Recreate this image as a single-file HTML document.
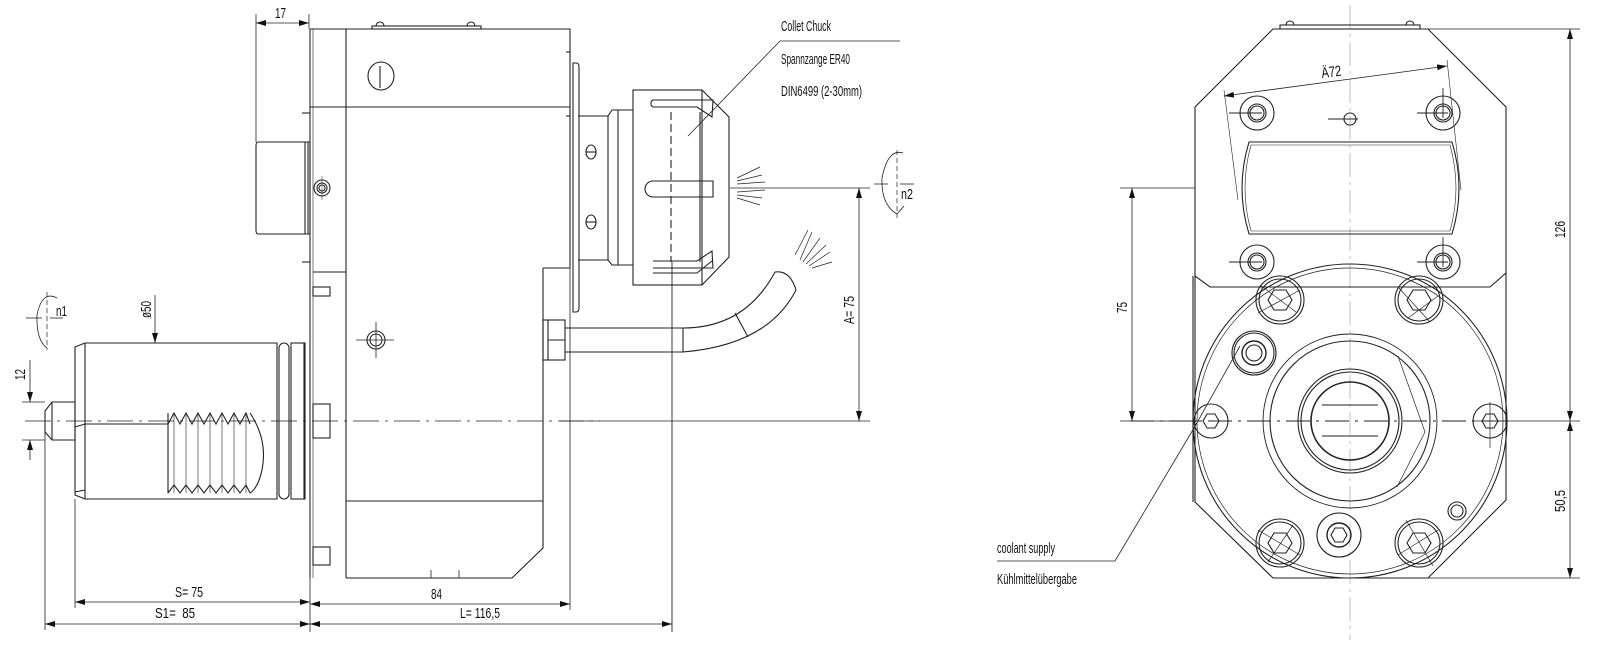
<!DOCTYPE html>
<html><head><meta charset="utf-8"><style>
html,body{margin:0;padding:0;background:#fff;}
svg{display:block}
text{font-family:"Liberation Sans Narrow","Liberation Sans",sans-serif;fill:#111;font-size:15px}
</style></head><body>
<svg width="1600" height="660" viewBox="0 0 1600 660" xmlns="http://www.w3.org/2000/svg">
<defs>
<marker id="a" viewBox="0 0 10 6" refX="10" refY="3" markerWidth="10" markerHeight="6" orient="auto-start-reverse" markerUnits="userSpaceOnUse"><path d="M0,0L10,3L0,6z" fill="#111"/></marker>
</defs>
<g fill="none" stroke="#222" stroke-width="1.1">
<line x1="256" y1="14" x2="256" y2="142" stroke-width="0.8"/>
<line x1="309" y1="14" x2="309" y2="29" stroke-width="0.8"/>
<line x1="256" y1="23" x2="309" y2="23" marker-start="url(#a)" marker-end="url(#a)" stroke-width="0.8"/>
<path d="M258,142H310V234H258Q256,234 256,230V146Q256,142 258,142Z"/>
<line x1="305" y1="142" x2="305" y2="234"/><line x1="308" y1="142" x2="308" y2="234"/>
<rect x="372" y="26" width="109" height="3"/>
<path d="M376,26a4,4 0 0 1 8,0M467,26a4,4 0 0 1 8,0"/>
<path d="M310,29H570V268"/>
<line x1="310" y1="29" x2="310" y2="578"/><line x1="313" y1="29" x2="313" y2="578" stroke-width="0.6"/>
<line x1="346" y1="29" x2="346" y2="578"/>
<line x1="310" y1="107" x2="570" y2="107"/>
<line x1="302" y1="113" x2="310" y2="113"/><line x1="302" y1="262" x2="310" y2="262"/>
<line x1="313" y1="272" x2="346" y2="272"/><rect x="313" y="287" width="17" height="9"/>
<ellipse cx="381" cy="76" rx="13" ry="14"/><line x1="380" y1="66" x2="380" y2="88"/>
<circle cx="322" cy="188" r="8"/><circle cx="322" cy="188" r="5"/><circle cx="322" cy="188" r="3"/>
<line x1="322" y1="176" x2="322" y2="200" stroke-width="0.5"/>
<circle cx="376" cy="340" r="9"/><circle cx="376" cy="340" r="6"/><path d="M356,340H394M376,322V358" stroke-width="0.8"/>
<path d="M543,268H570M543,268V548L512,578H346"/>
<line x1="346" y1="501" x2="543" y2="501"/>
<line x1="570" y1="268" x2="570" y2="610" stroke-width="0.8"/>
<line x1="570" y1="52" x2="566" y2="52"/><line x1="570" y1="116" x2="566" y2="116"/>
<path d="M431,578v-8M459,578v-8" stroke-width="0.8"/>
<rect x="313" y="404" width="17" height="34"/>
<rect x="313" y="547" width="17" height="18"/>
<rect x="543" y="320" width="22" height="40"/><line x1="548" y1="320" x2="548" y2="360"/><line x1="548" y1="340" x2="565" y2="340"/>
<path d="M573,63H576Q579,63 579,67V308Q579,312 576,312H573Z"/>
<path d="M578,116H608L612,110H633M578,260H608L612,265H633M608,116V260M618,110V265"/>
<ellipse cx="591" cy="152" rx="5" ry="7"/><line x1="586" y1="152" x2="596" y2="152"/>
<ellipse cx="591" cy="222" rx="5" ry="7"/><line x1="586" y1="222" x2="596" y2="222"/>
<rect x="633" y="90" width="69" height="195"/>
<path d="M702,90L729,117V257L702,285"/>
<line x1="700" y1="112" x2="700" y2="262"/>
<path d="M653,100H713L712,117L697,107H653A4,4 0 0 1 653,100Z"/>
<path d="M653,268H713L712,251L697,261H653" />
<path d="M653,273H697L712,261" />
<path d="M653,181H713V197H653A8,8 0 0 1 653,181Z"/>
<line x1="671" y1="112" x2="671" y2="262" stroke-dasharray="8,4"/>
<line x1="672" y1="262" x2="672" y2="632" stroke-width="0.9"/>
<path d="M737,178L760,167M737,181L762,175M737,184L765,182M737,192L765,190M737,195L762,198M737,198L760,205" stroke-width="0.7"/>
<path d="M800,260L812,232M803,262L820,238M806,264L826,245M809,266L830,252M812,268L832,262M795,255L808,230" stroke-width="0.7"/>
<path d="M565,328H683Q745,328 775,272"/>
<path d="M565,352H683Q768,345 796,290"/>
<line x1="683" y1="328" x2="683" y2="352"/>
<path d="M775,272Q790,270 796,290"/>
<path d="M735,313L748,337"/>
<path d="M688,136L780,41H900" stroke-width="0.8"/>
<line x1="25" y1="421" x2="600" y2="421" stroke-dasharray="26,6,3,6" stroke-width="0.8"/>
<path d="M85,343H277V499H85L75,495V347Z"/>
<line x1="85" y1="343" x2="85" y2="499"/>
<path d="M75,427L85,424H168M75,492L85,490"/>
<path d="M168,413V493M168,424L174,413L180,424L186,413L192,424L198,413L204,424L210,413L216,424L222,413L228,424L234,413L240,424L246,413L250,424M168,493L174,485L180,493L186,485L192,493L198,485L204,493L210,485L216,493L222,485L228,493L234,485L240,493L246,485L250,493"/>
<path d="M174,413V493M186,413V493M198,413V493M210,413V493M222,413V493M234,413V493M246,413V493" stroke-width="0.6"/>
<path d="M250,413Q268,440 262,470Q258,488 250,493"/>
<rect x="279" y="343" width="10" height="156" rx="5"/>
<rect x="291" y="343" width="14" height="156"/><line x1="304" y1="343" x2="304" y2="499"/>
<path d="M75,402H52L45,411V432L52,440H75Z"/><line x1="52" y1="402" x2="52" y2="440"/>
<path d="M22,402H45M22,440H45" stroke-width="0.8"/>
<line x1="30" y1="360" x2="30" y2="402" marker-end="url(#a)" stroke-width="0.8"/>
<line x1="30" y1="460" x2="30" y2="440" marker-end="url(#a)" stroke-width="0.8"/>
<line x1="155" y1="295" x2="155" y2="343" marker-end="url(#a)" stroke-width="0.8"/>
<path d="M57,298Q42,290 37,315Q36,340 47,348" stroke-width="0.8"/>
<line x1="47" y1="292" x2="47" y2="350" stroke-dasharray="5,3" stroke-width="0.7"/>
<line x1="26" y1="318" x2="42" y2="318" stroke-width="0.8"/>
<line x1="50" y1="318" x2="63" y2="318" stroke-width="0.8"/>
<line x1="45" y1="421" x2="45" y2="630" stroke-width="0.8"/>
<line x1="75" y1="499" x2="75" y2="608" stroke-width="0.8"/>
<line x1="310" y1="578" x2="310" y2="632" stroke-width="0.8"/>
<line x1="75" y1="602" x2="310" y2="602" marker-start="url(#a)" marker-end="url(#a)" stroke-width="0.8"/>
<line x1="45" y1="624" x2="310" y2="624" marker-start="url(#a)" marker-end="url(#a)" stroke-width="0.8"/>
<line x1="310" y1="604" x2="570" y2="604" marker-start="url(#a)" marker-end="url(#a)" stroke-width="0.8"/>
<line x1="310" y1="624" x2="672" y2="624" marker-start="url(#a)" marker-end="url(#a)" stroke-width="0.8"/>
<line x1="730" y1="188" x2="870" y2="188" stroke-width="0.8"/>
<line x1="560" y1="421" x2="870" y2="421" stroke-width="0.8"/>
<line x1="859" y1="188" x2="859" y2="421" marker-start="url(#a)" marker-end="url(#a)" stroke-width="0.8"/>
<path d="M903,153Q888,148 882,178Q881,205 897,214L904,206" stroke-width="0.8"/>
<line x1="897" y1="150" x2="897" y2="218" stroke-dasharray="5,3" stroke-width="0.7"/>
<line x1="874" y1="184" x2="888" y2="184" stroke-width="0.8"/>
<line x1="900" y1="184" x2="914" y2="184" stroke-width="0.8"/>

<line x1="1350" y1="5" x2="1350" y2="640" stroke="#999" stroke-width="0.6" stroke-dasharray="24,5,3,5"/>
<rect x="1280" y="25" width="140" height="4"/>
<path d="M1286,25a4,4 0 0 1 8,0M1406,25a4,4 0 0 1 8,0"/>
<path d="M1273,29H1428L1506,107V273L1490,287H1210L1195,276V107Z"/>
<path d="M1195,276V502L1273,578H1428L1506,500V273"/>
<line x1="1193" y1="276" x2="1193" y2="502"/>
<path d="M1249,142H1452Q1466,188 1452,234H1249Q1235,188 1249,142Z"/>
<path d="M1251,145H1450Q1462,188 1450,231H1251Q1239,188 1251,145Z" stroke-width="0.6"/>
<g>
<circle cx="1257" cy="113" r="17"/><circle cx="1257" cy="113" r="9"/><circle cx="1257" cy="113" r="7"/>
<circle cx="1443" cy="113" r="17"/><circle cx="1443" cy="113" r="9"/><circle cx="1443" cy="113" r="7"/>
<circle cx="1257" cy="262" r="17"/><circle cx="1257" cy="262" r="9"/><circle cx="1257" cy="262" r="7"/>
<circle cx="1443" cy="262" r="17"/><circle cx="1443" cy="262" r="9"/><circle cx="1443" cy="262" r="7"/>
<path d="M1229,113H1262M1417,113H1448M1443,88V118M1229,262H1262M1417,262H1448M1443,237V267" stroke-width="0.9"/>
<circle cx="1350" cy="119" r="6"/><line x1="1328" y1="119" x2="1358" y2="119"/>
</g>
<line x1="1224" y1="96" x2="1447" y2="66" marker-start="url(#a)" marker-end="url(#a)" stroke-width="0.8"/>
<path d="M1224,90L1238,200M1447,60L1461,190" stroke-width="0.6"/>
<circle cx="1350" cy="421" r="157"/><circle cx="1350" cy="421" r="153" stroke-width="0.7"/>
<circle cx="1350" cy="421" r="87" stroke-width="0.9"/><circle cx="1350" cy="421" r="80"/>
<path d="M1398,356L1425,432L1397,487" stroke-width="0.7"/>
<circle cx="1350" cy="421" r="52"/><circle cx="1350" cy="421" r="49"/><circle cx="1350" cy="421" r="39" stroke-width="1.6"/>
<line x1="1322" y1="405" x2="1378" y2="405"/><line x1="1322" y1="436" x2="1378" y2="436"/>
<line x1="1130" y1="421" x2="1500" y2="421" stroke-dasharray="24,6,3,6" stroke-width="0.9"/>
<g>
<circle cx="1280" cy="300" r="24"/><circle cx="1280" cy="300" r="21"/><polygon points="1292,300 1286,310 1274,310 1268,300 1274,290 1286,290"/>
<circle cx="1419" cy="300" r="24"/><circle cx="1419" cy="300" r="21"/><polygon points="1431,300 1425,310 1413,310 1407,300 1413,290 1425,290"/>
<circle cx="1280" cy="543" r="24"/><circle cx="1280" cy="543" r="21"/><polygon points="1292,543 1286,553 1274,553 1268,543 1274,533 1286,533"/>
<circle cx="1419" cy="543" r="24"/><circle cx="1419" cy="543" r="21"/><polygon points="1431,543 1425,553 1413,553 1407,543 1413,533 1425,533"/>
<circle cx="1211" cy="421" r="17"/><polygon points="1219,421 1215,428 1207,428 1203,421 1207,414 1215,414"/>
<circle cx="1490" cy="421" r="17"/><polygon points="1498,421 1494,428 1486,428 1482,421 1486,414 1494,414"/>
<path d="M1260,285L1296,312M1258,313L1300,290M1398,287L1430,322M1408,318L1438,296M1258,530L1300,555M1268,562L1293,525M1406,520L1433,566M1398,555L1438,530M1490,402V448M1475,421H1506" stroke-width="0.7"/>
<circle cx="1254" cy="353" r="22"/><circle cx="1254" cy="353" r="20"/><circle cx="1254" cy="353" r="12" stroke-width="1.4"/><circle cx="1254" cy="353" r="8"/>
<circle cx="1339" cy="535" r="22"/><circle cx="1339" cy="535" r="12" stroke-width="1.4"/><polygon points="1347,535 1343,542 1335,542 1331,535 1335,528 1343,528"/>
<circle cx="1457" cy="511" r="9"/><circle cx="1457" cy="511" r="6"/>
</g>
<path d="M997,561H1115L1194,428L1240,346" stroke-width="0.8"/>
<line x1="1428" y1="29" x2="1580" y2="29" stroke-width="0.8"/>
<line x1="1428" y1="578" x2="1580" y2="578" stroke-width="0.8"/>
<line x1="1500" y1="421" x2="1580" y2="421" stroke-width="0.8"/>
<line x1="1570" y1="29" x2="1570" y2="421" marker-start="url(#a)" marker-end="url(#a)" stroke-width="0.8"/>
<line x1="1570" y1="421" x2="1570" y2="578" marker-start="url(#a)" marker-end="url(#a)" stroke-width="0.8"/>
<line x1="1120" y1="188" x2="1195" y2="188" stroke-width="0.8"/>
<line x1="1120" y1="421" x2="1200" y2="421" stroke-width="0.8"/>
<line x1="1132" y1="188" x2="1132" y2="421" marker-start="url(#a)" marker-end="url(#a)" stroke-width="0.8"/>
</g>
<text x="275" y="18" textLength="11" lengthAdjust="spacingAndGlyphs">17</text>
<text x="781" y="31" textLength="50" lengthAdjust="spacingAndGlyphs">Collet Chuck</text>
<text x="781" y="64" textLength="69" lengthAdjust="spacingAndGlyphs">Spannzange ER40</text>
<text x="781" y="96" textLength="81" lengthAdjust="spacingAndGlyphs">DIN6499 (2-30mm)</text>
<text x="175" y="597" textLength="28" lengthAdjust="spacingAndGlyphs">S= 75</text>
<text x="155" y="618" textLength="40" lengthAdjust="spacingAndGlyphs">S1=&#160;&#160;85</text>
<text x="431" y="599" textLength="11" lengthAdjust="spacingAndGlyphs">84</text>
<text x="460" y="618" textLength="40" lengthAdjust="spacingAndGlyphs">L= 116,5</text>
<text x="56" y="316" textLength="11" lengthAdjust="spacingAndGlyphs">n1</text>
<text x="901" y="199" textLength="12" lengthAdjust="spacingAndGlyphs">n2</text>
<text transform="translate(25,380) rotate(-90)" textLength="11" lengthAdjust="spacingAndGlyphs">12</text>
<text transform="translate(151,318) rotate(-90)" textLength="17" lengthAdjust="spacingAndGlyphs">ø50</text>
<text transform="translate(854,324) rotate(-90)" textLength="28" lengthAdjust="spacingAndGlyphs">A= 75</text>
<text x="1322" y="78" transform="rotate(-7 1322 78)" textLength="20" lengthAdjust="spacingAndGlyphs">Ä72</text>
<text transform="translate(1127,313) rotate(-90)" textLength="11" lengthAdjust="spacingAndGlyphs">75</text>
<text transform="translate(1565,238) rotate(-90)" textLength="17" lengthAdjust="spacingAndGlyphs">126</text>
<text transform="translate(1565,512) rotate(-90)" textLength="22" lengthAdjust="spacingAndGlyphs">50,5</text>
<text x="997" y="553" textLength="58" lengthAdjust="spacingAndGlyphs">coolant supply</text>
<text x="997" y="584" textLength="80" lengthAdjust="spacingAndGlyphs">Kühlmittelübergabe</text>
</svg>
</body></html>
